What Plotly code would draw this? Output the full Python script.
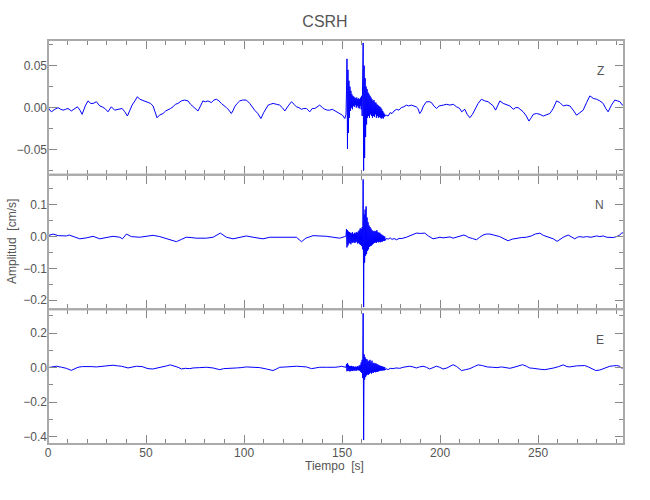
import numpy as np
import plotly.graph_objects as go
from plotly.subplots import make_subplots

# ---------------- data ----------------
title = "CSRH"
components = ["Z", "N", "E"]
x_ticks = [0, 50, 100, 150, 200, 250]

# background (slow) part of each trace: times [s] and amplitudes [cm/s]
z_bg_t = [0, 1.7, 3.5, 5.1, 6.5, 7.7, 9, 10.2, 11.9, 13.5, 15.0, 16.3, 17.4, 19, 20.4, 21.8, 23.0, 24.7, 26.4, 27.6,
          29.0, 30.6, 32.3, 34.0, 35.7, 37.8, 39.2, 40.5, 41.8, 42.9, 44.3, 45.6, 46.8, 48.0, 49.5, 51.0, 52.3, 53.6,
          54.8, 55.6, 56.8, 58.7, 60, 61.2, 62.5, 63.8, 65, 66.3, 68, 69.7, 71.4, 72.7, 74.0, 75.3, 76.5, 77.8, 79.0,
          80.3, 81.6, 83.3, 84.6, 85.9, 87.2, 88.4, 89.7, 91.0, 92.3, 93.5, 94.5, 95.2, 96.5, 97.8, 99.2, 101.2, 102.9,
          104.2, 105.4, 107, 108.6, 110, 111.3, 112.3, 113.5, 114.8, 116.5, 118.2, 119.5, 120.8, 122.5, 124.2, 125.5,
          126.7, 128, 129.3, 130.5, 131.8, 133.5, 134.8, 136.1, 137.3, 138.6, 140, 141.2, 142.5, 143.7, 145, 146.3,
          147.6, 148.9, 150.2, 151.4, 151.9,
          172.5, 173.5, 174.5, 175.5, 176.5, 177.7, 179, 180.2, 181.5, 182.8, 184, 185.3, 186.5, 187.8, 188.7, 189.6,
          190.5, 191.5, 193.0, 194.7, 195.6, 196.8, 198.2, 199.5, 201.6, 203.3, 205.0, 206.7, 208.4, 210, 211.0, 212.6,
          213.8, 215.2, 216.5, 217.7, 219.4, 221.1, 222.8, 224.5, 225.8, 227.1, 228.3, 229.3, 230.5, 232.2, 233.9,
          235.6, 237.3, 238.5, 239.8, 241.1, 242.4, 244.0, 245.3, 246.5, 247.5, 249.2, 250.9, 252.6, 254.3, 256.0,
          257.7, 259.4, 261.1, 262.8, 264.5, 266.2, 267.9, 269.6, 271.3, 273.0, 274.7, 276.4, 278.1, 279.8, 281.5,
          283.2, 284.5, 285.7, 287.4, 289.1, 290.5, 291.7, 293.0, 294]
z_bg_v = [0.000, -0.005, -0.002, 0.000, -0.002, -0.003, -0.002, -0.001, -0.004, -0.001, 0.001, -0.003, -0.008, 0.002,
          0.008, 0.005, 0.005, 0.007, 0.002, 0.001, -0.001, -0.005, 0.001, -0.003, -0.002, -0.001, -0.005, -0.010,
          -0.003, 0.003, 0.008, 0.013, 0.010, 0.009, 0.008, 0.007, 0.005, 0.002, -0.005, -0.012, -0.009, -0.007,
          -0.004, -0.003, -0.001, 0.001, 0.004, 0.005, 0.008, 0.009, 0.008, 0.004, 0.001, -0.001, -0.004, 0.002, 0.008,
          0.007, 0.008, 0.006, 0.009, 0.010, 0.008, 0.005, 0.003, 0.000, -0.003, -0.007, -0.003, 0.001, 0.005, 0.008,
          0.009, 0.009, 0.005, 0.000, -0.003, -0.007, -0.013, -0.006, 0.000, 0.003, 0.004, 0.005, 0.004, 0.003, 0.000,
          -0.004, 0.002, 0.007, 0.004, 0.001, 0.000, -0.002, -0.001, -0.001, -0.005, -0.001, -0.001, 0.001, 0.003,
          0.000, -0.002, -0.003, -0.003, -0.002, -0.004, -0.005, -0.007, -0.009, -0.013, -0.010,
          -0.009, -0.010, -0.006, -0.007, -0.004, -0.002, -0.003, 0.000, 0.001, 0.003, 0.002, 0.003, 0.002, 0.001,
          -0.001, -0.007, -0.004, 0.002, 0.007, 0.007, 0.006, 0.002, -0.001, 0.002, 0.003, 0.004, 0.003, 0.004, 0.001,
          -0.001, -0.005, -0.002, -0.008, -0.012, -0.008, -0.002, 0.005, 0.010, 0.008, 0.007, 0.005, 0.002, -0.003,
          0.002, 0.008, 0.005, 0.003, 0.002, -0.002, 0.000, 0.000, -0.002, -0.005, -0.010, -0.016, -0.012, -0.008,
          -0.007, -0.008, -0.010, -0.008, -0.007, -0.001, 0.008, 0.006, 0.002, 0.003, 0.002, -0.003, -0.009, -0.006,
          -0.003, 0.006, 0.014, 0.011, 0.010, 0.008, 0.005, -0.001, -0.005, 0.003, 0.009, 0.008, 0.007, 0.003, 0.001]

n_bg_t = [0, 2.6, 5.2, 9.4, 10.8, 13.6, 16.2, 19.6, 23, 26.4, 29.8, 33.2, 36.6, 38, 40, 42.5, 46.8, 50.2, 53.6, 57,
          60.4, 63, 65.5, 68, 70.5, 73, 75.7, 80.8, 84.2, 87.9, 91, 94.4, 97.8, 101.2, 104.6, 109.7, 113.1, 116.5,
          119.9, 123.3, 126.7, 129.3, 131.5, 135.2, 138.6, 142.0, 145.4, 148.8, 151.4, 151.9,
          172.5, 173.5, 174.5, 175.5, 176.5, 177.8, 179, 180.5, 182.8, 185, 186.5, 187.9, 190, 192.2, 194, 196.4, 198,
          199.9, 201.5, 203.3, 205, 206.6, 208.5, 210.0, 212.1, 213.3, 214.3, 216.5, 218.5, 220.2, 221.9, 223.6, 225.4,
          227.9, 230.4, 232.6, 234.7, 236.8, 238.9, 241.5, 244.0, 246.5, 248.5, 250.9, 252.6, 254.3, 256, 257.7, 259.7,
          261.3, 262.8, 265.3, 266.9, 268.7, 270, 271.3, 273, 274.7, 277, 279.8, 281.5, 283.2, 285, 286.6, 288.3, 290.0,
          291.5, 292.5, 294]
n_bg_v = [0.003, 0.008, 0.003, 0.002, 0.005, -0.002, -0.007, -0.004, 0.001, -0.007, -0.002, 0.001, -0.002, -0.007,
          0.008, 0.000, -0.002, 0.000, 0.004, 0.000, -0.007, -0.012, -0.016, -0.009, -0.002, -0.003, -0.005, -0.005,
          -0.002, 0.011, -0.002, -0.007, -0.002, 0.002, -0.002, -0.007, -0.002, -0.002, 0.000, 0.000, -0.002, -0.016,
          -0.005, 0.003, 0.003, 0.001, -0.002, -0.005, 0.000, 0.001,
          -0.006, -0.008, -0.004, -0.009, -0.006, -0.010, -0.006, -0.006, -0.002, 0.004, 0.008, 0.011, 0.010, 0.011,
          0.002, -0.007, -0.005, -0.002, -0.004, -0.002, -0.001, -0.005, -0.002, 0.000, 0.005, 0.002, -0.002, -0.006,
          -0.010, -0.002, 0.005, 0.008, 0.008, 0.004, 0.000, -0.007, -0.013, -0.008, -0.005, -0.003, -0.002, 0.002,
          0.008, 0.011, 0.004, 0.000, -0.004, -0.007, -0.015, -0.008, -0.002, 0.005, 0.000, -0.007, -0.002, 0.000,
          -0.002, 0.000, -0.002, 0.002, 0.000, 0.002, -0.002, -0.002, -0.003, 0.000, 0.004, 0.011, 0.013]

e_bg_t = [0, 2, 4.3, 7, 9.3, 11.9, 13.5, 15.3, 17.5, 19.6, 22, 24.7, 27, 29.8, 31.5, 33.2, 35.5, 37.5, 40.8, 43, 45.1,
          48, 51.0, 53.5, 56, 58.5, 60.5, 62.4, 64.5, 66.3, 68.1, 70, 72.3, 74, 77.4, 80.8, 84.2, 86, 87.6, 89.5, 92.7,
          96.1, 98.5, 101.2, 104.6, 108, 111.4, 113, 114.8, 116.5, 118.2, 121.6, 124, 126.7, 129.5, 131.8, 134.4,
          136.5, 138.6, 142.0, 145, 146.3, 148, 149.7, 151.0, 151.9,
          172.5, 173.5, 174.5, 176.0, 177.5, 179.5, 181.1, 183, 184.5, 186.2, 187.9, 189.5, 191.3, 193, 194.7, 196.4,
          198.1, 199.8, 201.5, 203.5, 205, 206.6, 208.5, 210.9, 213, 215.2, 217.4, 219.4, 221.5, 224, 226.8, 229,
          231.3, 233.5, 235.6, 237.7, 239.9, 242.1, 244, 245.7, 247.5, 249.1, 251.3, 253.4, 255.5, 258, 260.5, 262.8,
          264.7, 266, 269.6, 271.5, 273.8, 275.6, 277.5, 279.4, 281.5, 283.2, 284.9, 286.6, 288.3, 290.0, 291.5, 292.5,
          294]
e_bg_v = [0.000, 0.004, 0.008, 0.002, -0.004, -0.016, -0.006, 0.002, 0.006, 0.008, 0.006, 0.004, 0.006, 0.008, 0.010,
          0.014, 0.010, 0.008, -0.002, 0.004, 0.008, 0.006, -0.006, -0.008, -0.002, 0.002, 0.010, 0.016, 0.010, 0.002,
          -0.008, -0.004, -0.006, -0.002, 0.000, 0.002, -0.002, -0.008, -0.012, -0.006, -0.002, -0.002, 0.000, 0.004,
          0.002, 0.000, -0.008, -0.014, -0.017, -0.008, 0.002, 0.004, 0.006, 0.008, 0.006, 0.004, -0.006, -0.002,
          0.002, 0.002, 0.000, 0.002, 0.004, 0.008, 0.004, 0.002,
          -0.006, -0.012, -0.004, -0.006, -0.002, -0.004, 0.002, 0.004, 0.008, 0.004, -0.002, 0.004, 0.008, 0.002,
          -0.008, 0.000, 0.008, 0.002, -0.008, -0.002, 0.008, 0.017, 0.006, -0.017, -0.012, -0.006, 0.006, 0.016,
          0.012, 0.004, 0.002, 0.000, 0.004, 0.000, -0.004, 0.002, 0.008, 0.017, 0.008, -0.002, -0.004, -0.008,
          -0.010, -0.012, -0.008, -0.002, 0.006, 0.016, 0.006, 0.004, 0.010, 0.010, 0.012, 0.004, -0.008, -0.017,
          -0.014, -0.006, 0.000, 0.008, 0.010, 0.012, 0.008, -0.002, 0.000]

# strong-motion part, sampled every 0.25 s from 152.0 s to 172.0 s
burst_start = 152.0
burst_step = 0.25
z_burst = [-0.008, 0.020, 0.058, -0.049, 0.045, -0.030, 0.032, -0.012, 0.025, -0.004, 0.020, 0.000, 0.016, -0.002,
           0.014, 0.002, 0.013, 0.001, 0.012, 0.003, 0.011, 0.000, 0.012, 0.002, 0.010, 0.000, 0.011, -0.001, 0.010,
           0.002, 0.012, -0.002, 0.014, -0.010, 0.040, 0.077, -0.075, 0.050, -0.060, 0.035, -0.035, 0.025, -0.020,
           0.022, -0.012, 0.018, -0.010, 0.016, -0.012, 0.014, -0.008, 0.012, -0.010, 0.010, -0.012, 0.008, -0.010,
           0.009, -0.011, 0.006, -0.008, 0.006, -0.012, 0.004, -0.010, 0.003, -0.012, 0.002, -0.011, 0.001, -0.012,
           0.000, -0.013, -0.002, -0.012, -0.004, -0.013, -0.006, -0.011, -0.008, -0.010]
n_burst = [0.002, 0.024, -0.034, 0.020, -0.028, 0.016, -0.022, 0.014, -0.020, 0.012, -0.024, 0.010, -0.018, 0.014,
           -0.020, 0.008, -0.016, 0.012, -0.020, 0.010, -0.018, 0.014, -0.016, 0.012, -0.022, 0.016, -0.020, 0.020,
           -0.024, 0.026, -0.026, 0.024, -0.030, 0.030, -0.040, 0.180, -0.222, 0.070, -0.082, 0.085, -0.060, 0.095,
           -0.055, 0.060, -0.045, 0.045, -0.040, 0.035, -0.032, 0.030, -0.030, 0.025, -0.028, 0.020, -0.025, 0.018,
           -0.022, 0.016, -0.020, 0.018, -0.018, 0.016, -0.020, 0.020, -0.016, 0.014, -0.018, 0.012, -0.016, 0.012,
           -0.018, 0.008, -0.016, 0.006, -0.016, 0.004, -0.014, 0.002, -0.014, 0.000, -0.012]
e_burst = [0.002, 0.020, -0.021, 0.027, -0.018, 0.016, -0.020, 0.010, -0.022, 0.008, -0.020, 0.010, -0.018, 0.006,
           -0.020, 0.008, -0.016, 0.004, -0.018, 0.006, -0.016, 0.004, -0.018, 0.008, -0.014, 0.006, -0.016, 0.012,
           -0.018, 0.016, -0.024, 0.030, -0.030, 0.045, -0.060, 0.315, -0.420, 0.076, -0.070, 0.060, -0.055, 0.050,
           -0.045, 0.047, -0.040, 0.035, -0.041, 0.040, -0.035, 0.045, -0.030, 0.030, -0.035, 0.040, -0.028, 0.025,
           -0.030, 0.028, -0.025, 0.022, -0.027, 0.025, -0.024, 0.020, -0.025, 0.018, -0.022, 0.014, -0.020, 0.012,
           -0.018, 0.010, -0.017, 0.008, -0.017, 0.006, -0.016, 0.004, -0.016, 0.002, -0.014]

y_ranges = [[-0.0798, 0.0805], [-0.229, 0.195], [-0.443, 0.338]]
y_dticks = [0.05, 0.1, 0.2]
y_minor = [0.025, 0.05, 0.1]
y_formats = [".2f", ".1f", ".1f"]


def assemble(bg_t, bg_v, burst):
    bt = burst_start + burst_step * np.arange(len(burst))
    bg_t = np.asarray(bg_t, float)
    bg_v = np.asarray(bg_v, float)
    pre = bg_t < bt[0]
    post = bg_t > bt[-1]
    t = np.concatenate([bg_t[pre], bt, bg_t[post]])
    v = np.concatenate([bg_v[pre], np.asarray(burst, float), bg_v[post]])
    return t, v


traces = [assemble(z_bg_t, z_bg_v, z_burst),
          assemble(n_bg_t, n_bg_v, n_burst),
          assemble(e_bg_t, e_bg_v, e_burst)]

# ---------------- figure ----------------
FONT = "Liberation Sans, Arial, sans-serif"
TXT = "#555555"
FRAME = "#aaaaaa"
TICK = "#888888"

fig = make_subplots(rows=3, cols=1, shared_xaxes=True, vertical_spacing=0)

for i, (t, v) in enumerate(traces):
    r = i + 1
    xd = "x domain" if r == 1 else f"x{r} domain"
    yd = "y domain" if r == 1 else f"y{r} domain"
    fig.add_trace(go.Scatter(x=t, y=v, mode="lines", line=dict(color="#0000ff", width=1),
                             showlegend=False, hoverinfo="skip"), row=r, col=1)
    fig.update_yaxes(range=y_ranges[i], dtick=y_dticks[i], tick0=0, tickformat=y_formats[i],
                     ticks="inside", ticklen=9, tickwidth=1, tickcolor=TICK,
                     minor=dict(ticks="inside", ticklen=5, dtick=y_minor[i], tick0=0, tickcolor=TICK),
                     showline=False, mirror="ticks", automargin=False,
                     showgrid=False, zeroline=False,
                     tickfont=dict(family=FONT, size=12, color=TXT), row=r, col=1)
    fig.update_xaxes(range=[0, 293.8], tickvals=x_ticks,
                     ticks="inside", ticklen=9, tickwidth=1, tickcolor=TICK,
                     minor=dict(ticks="inside", ticklen=5, dtick=10, tick0=0, tickcolor=TICK),
                     showline=False, mirror="ticks", automargin=False,
                     showgrid=False, zeroline=False,
                     tickfont=dict(family=FONT, size=12, color=TXT), row=r, col=1)
    # panel frame
    fig.add_shape(type="rect", xref=xd, yref=yd, x0=0, x1=1, y0=0, y1=1,
                  line=dict(color=FRAME, width=2), fillcolor="rgba(0,0,0,0)", layer="above")
    fig.add_annotation(text=components[i], xref=xd, yref=yd,
                       x=0.969, y=0.838, showarrow=False,
                       font=dict(family=FONT, size=12, color=TXT))

fig.add_annotation(text="Amplitud  [cm/s]", xref="paper", yref="paper", x=-0.0625, y=0.5,
                   textangle=-90, showarrow=False, xanchor="center", yanchor="middle",
                   font=dict(family=FONT, size=12, color=TXT))
fig.add_annotation(text="Tiempo  [s]", xref="paper", yref="paper", x=0.497, y=-0.054,
                   showarrow=False, xanchor="center", yanchor="middle",
                   font=dict(family=FONT, size=12, color=TXT))

fig.update_layout(
    width=650, height=500,
    margin=dict(l=48, r=26, t=40, b=56, autoexpand=False),
    paper_bgcolor="white", plot_bgcolor="white",
    title=dict(text=title, x=0.5, xanchor="center", y=0.958, yanchor="middle",
               font=dict(family=FONT, size=16, color=TXT)),
    showlegend=False,
    hovermode=False,
)

fig.write_html("out.html", config={"displayModeBar": False, "staticPlot": True},
               post_script="document.body.style.margin='0';document.body.style.padding='0';")
